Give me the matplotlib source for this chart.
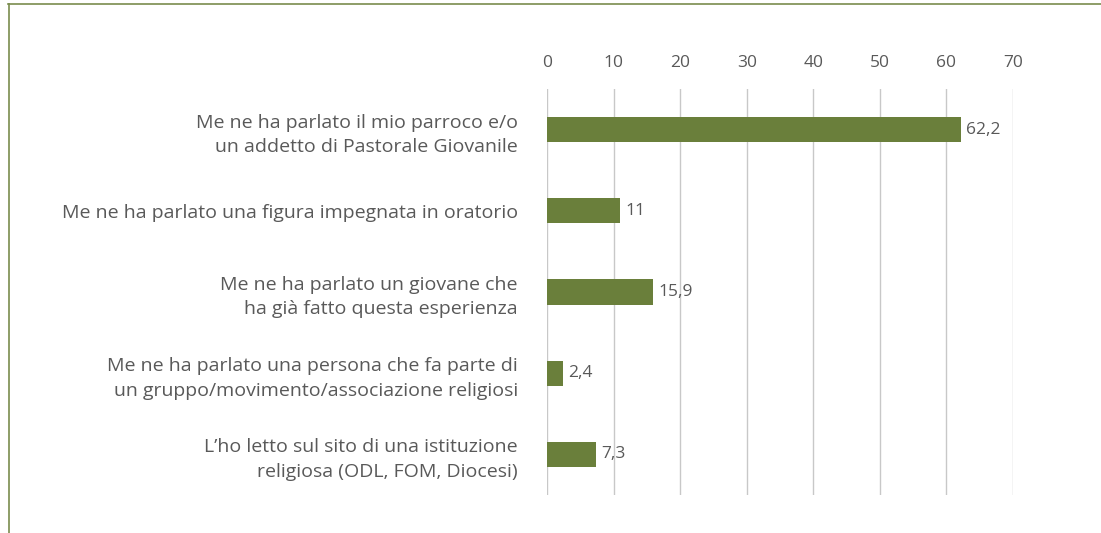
import matplotlib.pyplot as plt
from matplotlib.lines import Line2D
import numpy as np

plt.rcParams['font.family'] = ['Open Sans', 'DejaVu Sans']

# Answers (top to bottom) and percentages
labels = ['Me ne ha parlato il mio parroco e/o\nun addetto di Pastorale Giovanile',
          'Me ne ha parlato una figura impegnata in oratorio',
          'Me ne ha parlato un giovane che\nha già fatto questa esperienza',
          'Me ne ha parlato una persona che fa parte di\nun gruppo/movimento/associazione religiosi',
          'L\u2019ho letto sul sito di una istituzione\nreligiosa (ODL, FOM, Diocesi)']
values = [62.2, 11, 15.9, 2.4, 7.3]
ticks = [0, 10, 20, 30, 40, 50, 60, 70]

bar_color = '#6A7F3B'
text_color = '#595959'
grid_color = '#C8C8C8'

fig = plt.figure(figsize=(11.01, 5.33), dpi=100)
ax = fig.add_axes([547 / 1101, 1 - 495 / 533, 466 / 1101, 406 / 533])

pos = np.arange(len(labels))
ax.barh(pos, values, height=0.31, color=bar_color, zorder=2)
ax.set_ylim(len(labels) - 0.5, -0.5)
ax.set_xlim(0, 70)

ax.set_xticks(ticks)
ax.xaxis.tick_top()
ax.tick_params(axis='x', length=0, pad=13, labelsize=12.5, labelcolor=text_color)
ax.set_yticks(pos)
ax.set_yticklabels(labels, fontsize=14, color=text_color, linespacing=1.45)
ax.tick_params(axis='y', length=0, pad=21)
ax.grid(axis='x', color=grid_color, linewidth=1, zorder=0)
for s in ax.spines.values():
    s.set_visible(False)

for p, v in zip(pos, values):
    txt = ('%.1f' % v).replace('.', ',') if v != int(v) else str(int(v))
    ax.text(v + 0.8, p, txt, va='center', ha='left', fontsize=12.5,
            color=text_color, zorder=3)

# frame lines (top and left only)
border = '#7A8C4E'
fig.add_artist(Line2D([8 / 1101, 1], [1 - 4 / 533, 1 - 4 / 533],
                      color=border, linewidth=1.2, transform=fig.transFigure))
fig.add_artist(Line2D([9 / 1101, 9 / 1101], [0, 1 - 4 / 533],
                      color=border, linewidth=1.2, transform=fig.transFigure))

fig.savefig('out.png', dpi=100)
